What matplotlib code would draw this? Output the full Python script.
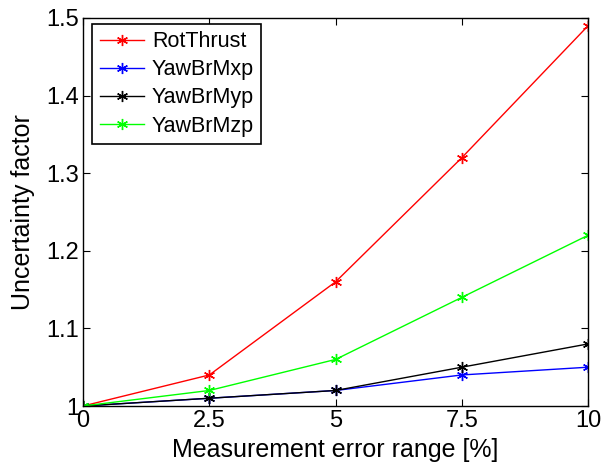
import matplotlib.pyplot as plt

plt.rcParams['font.family'] = ['Liberation Sans', 'DejaVu Sans']

error_range = [0, 2.5, 5, 7.5, 10]
rot_thrust = [1.00, 1.04, 1.16, 1.32, 1.49]
yaw_mxp = [1.00, 1.01, 1.02, 1.04, 1.05]
yaw_myp = [1.00, 1.01, 1.02, 1.05, 1.08]
yaw_mzp = [1.00, 1.02, 1.06, 1.14, 1.22]

xticks = [0, 2.5, 5, 7.5, 10]
xtick_labels = ['0', '2.5', '5', '7.5', '10']
yticks = [1.0, 1.1, 1.2, 1.3, 1.4, 1.5]
ytick_labels = ['1', '1.1', '1.2', '1.3', '1.4', '1.5']

fig = plt.figure(figsize=(6.02, 4.71), dpi=100)
ax = fig.add_axes([0.138, 0.138, 0.839, 0.824])

star = (6, 2, 0)
ax.plot(error_range, rot_thrust, color='#ff0000', marker=star, markersize=8, lw=1, label='RotThrust')
ax.plot(error_range, yaw_mxp, color='#0000ff', marker=star, markersize=8, lw=1, label='YawBrMxp')
ax.plot(error_range, yaw_myp, color='#000000', marker=star, markersize=8, lw=1, label='YawBrMyp')
ax.plot(error_range, yaw_mzp, color='#00ff00', marker=star, markersize=8, lw=1, label='YawBrMzp')

ax.set_xlim(0, 10)
ax.set_ylim(1, 1.5)
ax.set_xticks(xticks)
ax.set_xticklabels(xtick_labels)
ax.set_yticks(yticks)
ax.set_yticklabels(ytick_labels)
ax.tick_params(direction='in', top=True, right=True, labelsize=17, length=5, pad=3)
for s in ax.spines.values():
    s.set_linewidth(1)

ax.set_xlabel('Measurement error range [%]', fontsize=18, labelpad=4)
ax.set_ylabel('Uncertainty factor', fontsize=18, labelpad=8)

leg = ax.legend(loc='upper left', bbox_to_anchor=(0.018, 0.985), fontsize=15.5,
                fancybox=False, edgecolor='black', framealpha=1, borderaxespad=0,
                handlelength=2.05, handletextpad=0.37, labelspacing=0.33, borderpad=0.35)
leg.get_frame().set_linewidth(1.2)

plt.savefig('out.png', dpi=100)
